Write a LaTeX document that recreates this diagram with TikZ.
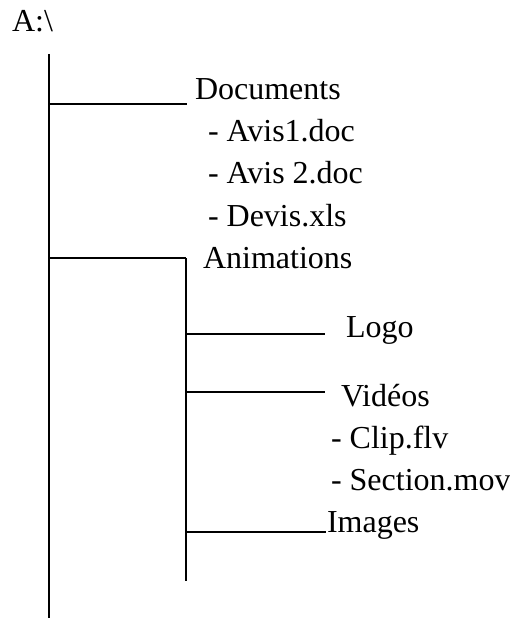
\documentclass[tikz,border=0pt]{standalone}
\usepackage{fontspec}
\setmainfont{Liberation Serif}
\begin{document}
\begin{tikzpicture}[x=1bp,y=-1bp,
  lbl/.style={anchor=base west,inner sep=0pt,outer sep=0pt,font=\fontsize{32bp}{38bp}\selectfont},
  branch/.style={line width=1.5bp,black}]
\useasboundingbox (0,0) rectangle (510,618);
% labels
\node[lbl] (root) at (12,32) {A:\textbackslash};
\node[lbl] (docs) at (195,100) {Documents};
\node[lbl] (avis1) at (208,142) {- Avis1.doc};
\node[lbl] (avis2) at (208,184) {- Avis 2.doc};
\node[lbl] (devis) at (208,226) {- Devis.xls};
\node[lbl] (anim) at (203,268) {Animations};
\node[lbl] (logo) at (346,337) {Logo};
\node[lbl] (videos) at (341,406) {Vidéos};
\node[lbl] (clip) at (331,448) {- Clip.flv};
\node[lbl] (section) at (331,490) {- Section.mov};
\node[lbl] (images) at (327,532) {Images};
% tree coordinates
\coordinate (rtop) at (49,54);
\coordinate (rbot) at (49,618);
\coordinate (jdocs) at (49,104);
\coordinate (edocs) at (187,104);
\coordinate (janim) at (49,258);
\coordinate (stop) at (186,258);
\coordinate (sbot) at (186,581);
\coordinate (jlogo) at (186,334);
\coordinate (elogo) at (325,334);
\coordinate (jvid) at (186,392);
\coordinate (evid) at (325,392);
\coordinate (jimg) at (186,532);
\coordinate (eimg) at (326,532);
% connectors
\draw[branch] (rtop) -- (rbot);
\draw[branch] (jdocs) -- (edocs);
\draw[branch] (janim) -- (stop);
\draw[branch] (stop) -- (sbot);
\draw[branch] (jlogo) -- (elogo);
\draw[branch] (jvid) -- (evid);
\draw[branch] (jimg) -- (eimg);
\end{tikzpicture}
\end{document}
